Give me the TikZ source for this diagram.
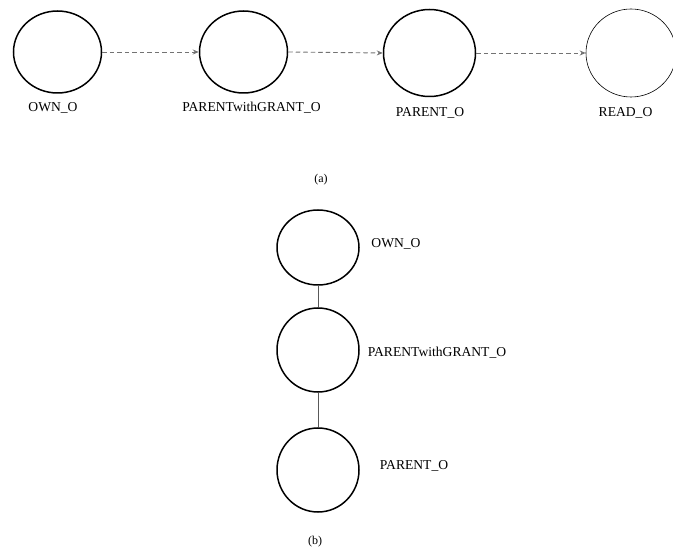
\documentclass[tikz,border=0pt]{standalone}
\usepackage{fontspec}
\setmainfont{Liberation Serif}
\usetikzlibrary{arrows.meta,shapes.geometric}
\begin{document}
\begin{tikzpicture}[x=1pt,y=-1pt,
  st/.style={draw=black, line width=1.5pt, ellipse, minimum width=88pt, minimum height=82pt, inner sep=0pt},
  stthin/.style={draw=black, line width=0.6pt, ellipse, minimum width=90pt, minimum height=88pt, inner sep=0pt},
  lab/.style={font=\fontsize{13.6}{16}\selectfont, inner sep=0pt},
  capt/.style={font=\fontsize{12}{14}\selectfont, inner sep=0pt},
  darr/.style={draw=black!55, line width=0.9pt, dash pattern=on 4.5pt off 3pt, -{Stealth[length=6pt,width=5pt,fill=black!55]}},
  sline/.style={draw=black!65, line width=1pt}]
\useasboundingbox (0,0) rectangle (673,548);
% (a)
\node[st] (a1) at (57.5,52) {};
\node[st] (a2) at (243.5,52) {};
\node[st, minimum width=92pt, minimum height=87pt] (a3) at (429.5,53) {};
\node[stthin] (a4) at (631,53) {};
\node[lab] (la1) at (53,108) {OWN\_O};
\node[lab] (la2) at (251.5,108) {PARENTwithGRANT\_O};
\node[lab] (la3) at (430,113) {PARENT\_O};
\node[lab] (la4) at (625.5,113) {READ\_O};
\draw[darr] (a1.east) -- (a2.west);
\draw[darr] (a2.east) -- (a3.west);
\draw[darr] (a3.east) -- (a4.west);
\node[capt] (capa) at (321,180) {(a)};
% (b)
\node[st, minimum width=82pt, minimum height=75pt] (b1) at (318,247.5) {};
\node[st, minimum width=82pt, minimum height=84pt] (b2) at (318,350) {};
\node[st, minimum width=82pt, minimum height=84pt] (b3) at (318,470) {};
\node[lab] (lb1) at (396,244) {OWN\_O};
\node[lab] (lb2) at (437,353) {PARENTwithGRANT\_O};
\node[lab] (lb3) at (414,466) {PARENT\_O};
\draw[sline] (b1.south) -- (b2.north);
\draw[sline] (b2.south) -- (b3.north);
\node[capt] (capb) at (315,542) {(b)};
\end{tikzpicture}
\end{document}
